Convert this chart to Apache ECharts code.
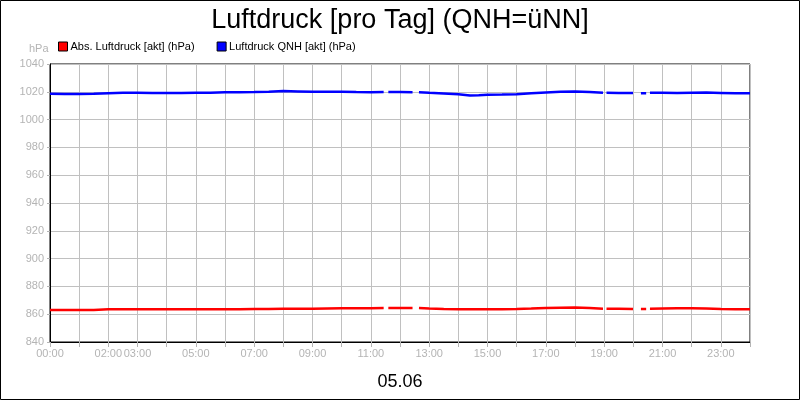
<!DOCTYPE html>
<html>
<head>
<meta charset="utf-8">
<script src="https://cdn.jsdelivr.net/npm/echarts@6/dist/echarts.min.js"></script>
<style>
html,body{margin:0;padding:0;background:#fff;}
#c{width:800px;height:400px;}
</style>
</head>
<body>
<div id="c"></div>
<script>
// hours of day (null value = gap in recording)
const hours = [0,0.5,1,1.5,2,2.5,3,3.5,4,4.5,5,5.5,6,6.5,7,7.5,8,8.5,9,9.5,10,10.5,11,11.44,11.52,11.6,12,12.43,12.54,12.65,13,13.5,14,14.4,14.7,15,15.5,16,16.5,17,17.5,18,18.5,18.96,19.02,19.08,19.5,19.99,20.1,20.26,20.44,20.5,20.57,21,21.5,22,22.5,23,23.5,24];
const absPressure = [863.1,863.0,863.0,863.1,863.5,863.6,863.6,863.5,863.5,863.5,863.5,863.6,863.6,863.6,863.7,863.8,864.0,864.0,864.0,864.1,864.2,864.2,864.3,864.4,null,864.5,864.4,864.4,null,864.4,864.1,863.8,863.6,863.5,863.5,863.5,863.6,863.8,864.1,864.5,864.7,864.8,864.4,864.0,null,864.0,863.9,863.8,null,863.8,863.8,null,864.0,864.1,864.2,864.3,864.1,863.7,863.6,863.6];
const qnhPressure = [1018.6,1018.5,1018.5,1018.6,1019.0,1019.3,1019.3,1019.2,1019.1,1019.2,1019.3,1019.4,1019.6,1019.7,1019.8,1020.1,1020.5,1020.3,1020.1,1020.0,1020.0,1019.8,1019.7,1019.8,null,1019.8,1019.8,1019.7,null,1019.7,1019.3,1018.8,1018.3,1017.4,1017.5,1017.8,1018.0,1018.3,1018.9,1019.5,1020.0,1020.2,1019.8,1019.4,null,1019.3,1019.2,1019.1,null,1019.0,1019.0,null,1019.3,1019.4,1019.2,1019.4,1019.5,1019.2,1018.9,1018.9];
const xLabelHours = [0,2,3,5,7,9,11,13,15,17,19,21,23];
const seriesNames = ['Abs. Luftdruck [akt] (hPa)','Luftdruck QNH [akt] (hPa)'];

const pair = (arr) => hours.map((h,i) => [h, arr[i]]);
const fmtHour = h => (h < 10 ? '0' : '') + h + ':00';
const font = '"Liberation Sans", Arial, sans-serif';
const gray = '#b4b4b4';

const chart = echarts.init(document.getElementById('c'), null, {renderer:'canvas'});
chart.setOption({
  backgroundColor:'#fff',
  animation:false,
  textStyle:{fontFamily:font},
  title:[
    {text:'Luftdruck [pro Tag] (QNH=üNN]', left:'center', top:2,
     textStyle:{fontSize:27, fontWeight:'normal', color:'#000', fontFamily:font}},
    {text:'05.06', left:'center', top:368,
     textStyle:{fontSize:18, fontWeight:'normal', color:'#000', fontFamily:font}}
  ],
  legend:{
    left:53, top:36, itemGap:22, itemWidth:9, itemHeight:9, icon:'rect',
    textStyle:{fontSize:11, color:'#000', fontFamily:font, padding:[0,0,0,-2]},
    itemStyle:{borderColor:'#000', borderWidth:1},
    data:seriesNames
  },
  graphic:[
    {type:'rect', shape:{x:0.5,y:0.5,width:799,height:399}, style:{fill:'none', stroke:'#000', lineWidth:1}, silent:true, z:100},
    {type:'text', left:29, top:43, style:{text:'hPa', fontSize:11, fill:gray, fontFamily:font}}
  ],
  grid:{left:50, right:50, top:64, bottom:58, show:true, borderColor:'#000', borderWidth:1, containLabel:false},
  xAxis:{
    type:'value', min:0, max:24, interval:1,
    axisLine:{show:true, onZero:false, lineStyle:{color:'#000', width:1}},
    axisTick:{show:true, length:5, lineStyle:{color:gray}},
    splitLine:{show:true, lineStyle:{color:'#c0c0c0', width:1}},
    axisLabel:{color:gray, fontSize:11, margin:6, fontFamily:font, showMaxLabel:true,
      formatter:v => xLabelHours.indexOf(v) >= 0 ? fmtHour(v) : ''}
  },
  yAxis:{
    type:'value', min:840, max:1040, interval:20,
    axisLine:{show:true, lineStyle:{color:'#000', width:1}},
    axisTick:{show:true, length:3, lineStyle:{color:gray}},
    splitLine:{show:true, lineStyle:{color:'#c0c0c0', width:1}},
    axisLabel:{color:gray, fontSize:11, margin:6, fontFamily:font, formatter:v => String(v)}
  },
  series:[
    {name:seriesNames[0], type:'line', data:pair(absPressure), showSymbol:false, connectNulls:false,
     color:'#ff0000', lineStyle:{color:'#ff0000', width:2.5}},
    {name:seriesNames[1], type:'line', data:pair(qnhPressure), showSymbol:false, connectNulls:false,
     color:'#0000ff', lineStyle:{color:'#0000ff', width:2.5}}
  ]
});
</script>
</body>
</html>
